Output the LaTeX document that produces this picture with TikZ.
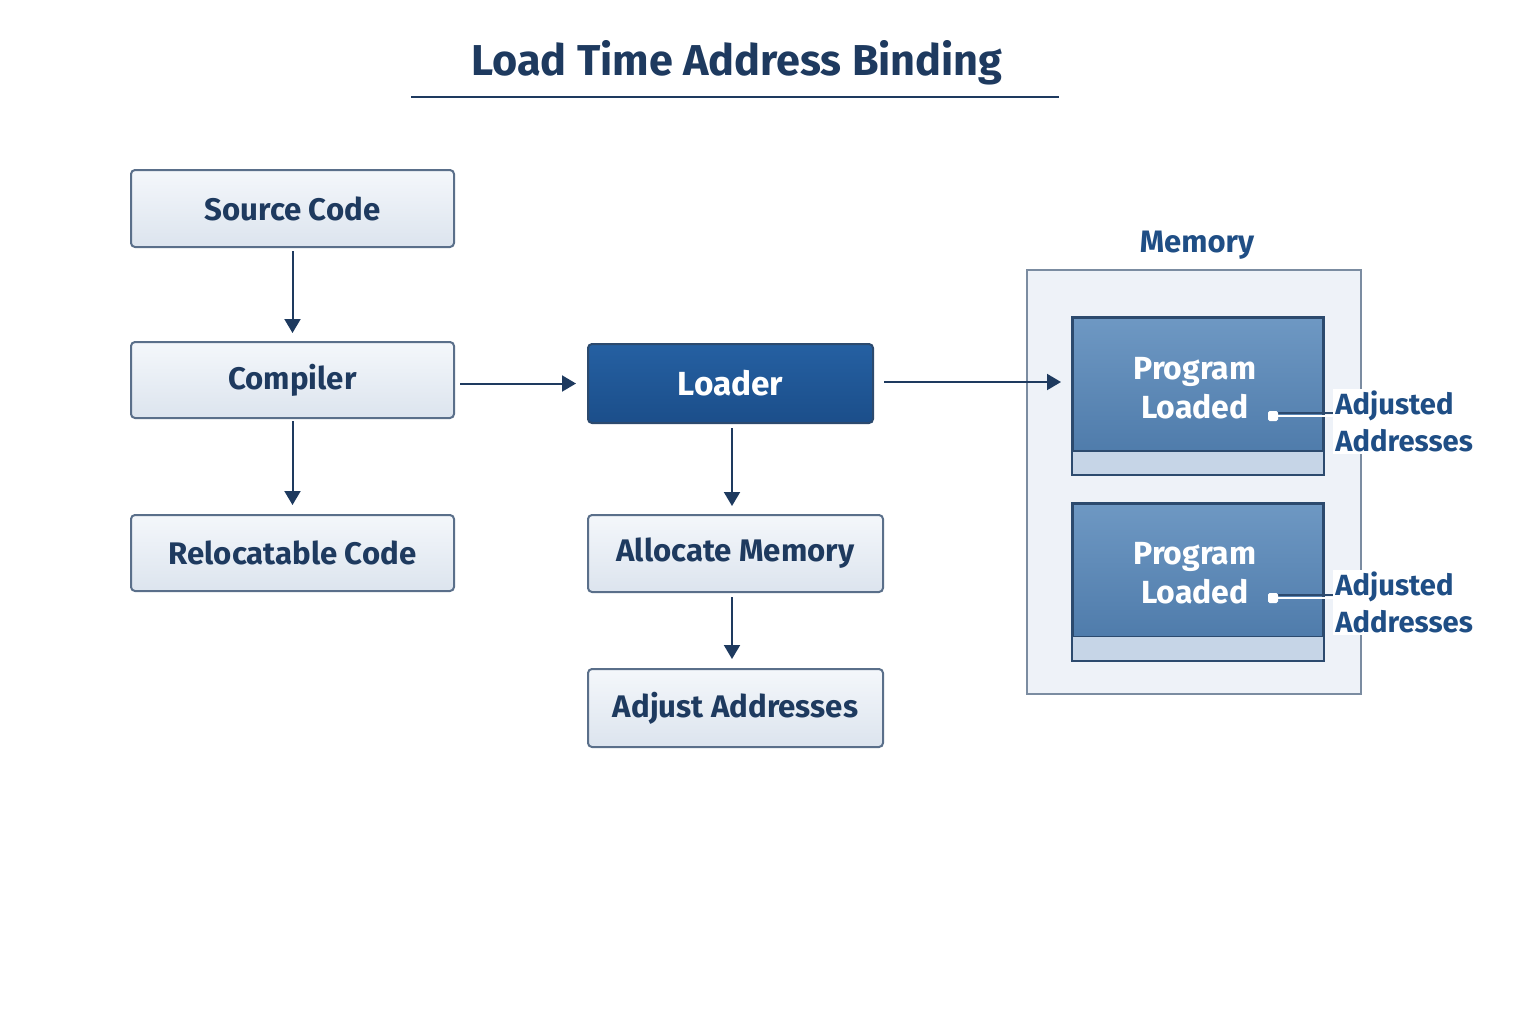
\documentclass[tikz,border=0pt]{standalone}
\usepackage{fontspec}
\setmainfont{Fira Sans}
\usetikzlibrary{arrows.meta}
\definecolor{txt}{HTML}{1E3A5F}
\definecolor{accent}{HTML}{1F4E85}
\definecolor{bord}{HTML}{5A6F8A}
\definecolor{lighttop}{HTML}{F4F7FB}
\definecolor{lightbot}{HTML}{DCE4EE}
\definecolor{loadtop}{HTML}{2560A2}
\definecolor{loadbot}{HTML}{1B4E8A}
\definecolor{progtop}{HTML}{6E98C3}
\definecolor{progbot}{HTML}{4A77A7}
\definecolor{progbord}{HTML}{2C4A6E}
\definecolor{strip}{HTML}{C6D5E7}
\definecolor{memfill}{HTML}{EEF2F8}
\begin{document}
\begin{tikzpicture}[x=0.5pt,y=-0.5pt,
  lightbox/.style={draw=bord, line width=1pt, rounded corners=2pt, top color=lighttop, bottom color=lightbot, text=txt, font=\fontsize{15.6}{18}\selectfont\bfseries, inner sep=0pt},
  darkbox/.style={draw=progbord, line width=1pt, rounded corners=2pt, top color=loadtop, bottom color=loadbot, text=white, font=\fontsize{16.7}{19}\selectfont\bfseries, inner sep=0pt},
  arr/.style={draw=txt, line width=1pt, -{Triangle[length=7pt,width=8pt]}},
  lbl/.style={fill=white, text=accent, align=left, font=\fontsize{14.6}{18.5}\selectfont\bfseries, inner sep=1pt},
]
\useasboundingbox (0,0) rectangle (1536,1024);
% title
\node (title) at (737,63) [text=txt, font=\fontsize{21.6}{24}\selectfont\bfseries] {Load Time Address Binding};
\draw[txt, line width=0.8pt] (411,97) -- (1059,97);
% left column
\node (src) at (292.5,208.5) [lightbox, minimum width=323*0.5pt, minimum height=77*0.5pt] {Source Code};
\node (comp) at (292.5,380) [lightbox, minimum width=323*0.5pt, minimum height=76*0.5pt] {Compiler};
\node (reloc) at (292.5,553) [lightbox, minimum width=323*0.5pt, minimum height=76*0.5pt] {Relocatable Code};
% middle column
\node (loader) at (730.5,383.5) [darkbox, minimum width=285*0.5pt, minimum height=79*0.5pt] {Loader};
\node (alloc) at (735.5,553.5) [lightbox, minimum width=295*0.5pt, minimum height=77*0.5pt] {Allocate Memory};
\node (adj) at (735.5,708) [lightbox, minimum width=295*0.5pt, minimum height=78*0.5pt] {Adjust Addresses};
% memory
\node (mem) at (1194,482) [draw=bord!80, line width=0.8pt, fill=memfill, minimum width=334*0.5pt, minimum height=424*0.5pt, inner sep=0pt] {};
\node (memlbl) at (1197,245) [text=accent, font=\fontsize{15.5}{18}\selectfont\bfseries] {Memory};
% program boxes
\foreach \n/\cy in {p1/396, p2/581.5}{
  \node (\n) at (1198,\cy) [draw=progbord, line width=1pt, top color=progtop, bottom color=progbot, minimum width=250*0.5pt, minimum height=156*0.5pt, inner sep=0pt] {};
  \fill[strip] ([xshift=0.5pt,yshift=0.5pt]\n.south west) rectangle ([xshift=-0.5pt,yshift=12pt]\n.south east);
  \draw[progbord, line width=0.8pt] ([yshift=12pt]\n.south west) -- ([yshift=12pt]\n.south east);
  \draw[progbord, line width=1pt] (\n.south west) rectangle (\n.north east);
}
\node (t1) at (1195,388) [text=white, align=center, font=\fontsize{16}{19.5}\selectfont\bfseries] {Program\\ Loaded};
\node (t2) at (1195,573) [text=white, align=center, font=\fontsize{16}{19.5}\selectfont\bfseries] {Program\\ Loaded};
% adjusted labels
\node (a1) at (1333,421.5) [lbl, anchor=west] {Adjusted\\Addresses};
\node (a2) at (1333,602.5) [lbl, anchor=west] {Adjusted\\Addresses};
\coordinate (d1) at (1273,416);
\coordinate (d2) at (1273,598);
\foreach \d/\a in {d1/a1, d2/a2}{
  \draw[progbord, line width=0.6pt] ([yshift=1.5pt]\d) -- ([yshift=1.5pt]\d -| \a.west);
  \draw[white, line width=1.4pt] (\d) -- (\d -| \a.west);
  \fill[white, rounded corners=0.8pt] ([xshift=-2.5pt,yshift=-2.5pt]\d) rectangle ([xshift=2.5pt,yshift=2.5pt]\d);
}
% arrows
\draw[arr, shorten <=1.5pt, shorten >=4pt] (src.south) -- (comp.north);
\draw[arr, shorten <=1pt, shorten >=4.5pt] (comp.south) -- (reloc.north);
\draw[arr, shorten <=2.5pt, shorten >=5.5pt] (comp.east |- loader) -- (loader.west);
\draw[arr, shorten <=2pt, shorten >=4pt] (loader.south -| 732,0) -- (alloc.north -| 732,0);
\draw[arr, shorten <=2pt, shorten >=4.5pt] (alloc.south -| 732,0) -- (adj.north -| 732,0);
\draw[arr, shorten <=5pt, shorten >=5.5pt] (loader.east |- 0,382) -- (p1.west |- 0,382);
\end{tikzpicture}
\end{document}
